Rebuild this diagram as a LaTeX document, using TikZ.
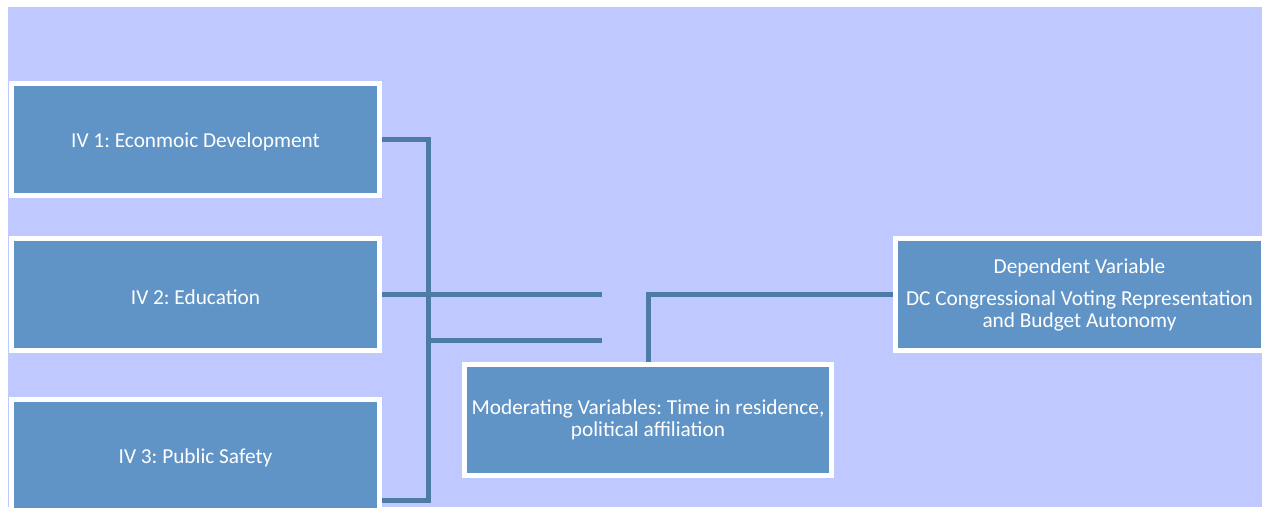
\documentclass[tikz,border=0pt]{standalone}
\usepackage{fontspec}
\setmainfont{Carlito}
\definecolor{grundblau}{RGB}{191,200,255}
\definecolor{kastenblau}{RGB}{96,148,199}
\definecolor{linienblau}{RGB}{78,122,166}
\def\schrift{\fontsize{21.3}{22}\selectfont\frenchspacing}
\begin{document}
\begin{tikzpicture}[x=1pt,y=-1pt,
	varkasten/.style={fill=kastenblau,draw=white,line width=5pt,
		minimum width=368pt,minimum height=112pt,inner sep=2pt,
		text=white,align=center,font=\schrift,
		execute at begin node={\rule{0pt}{20pt}}},
	mehrzeilig/.style={execute at begin node={\rule{0pt}{24pt}}},
	verbindung/.style={draw=linienblau,line width=5pt}]
	\useasboundingbox (0,0) rectangle (1262,507);
	\begin{scope}
	\clip (0,0) rectangle (1262,507);
	\fill[grundblau] (8,7) rectangle (1262,507);
	\node[varkasten] (iv1) at (195.5,139.5) {IV 1: Econmoic Development};
	\node[varkasten] (iv2) at (195.5,294.5) {IV 2: Education};
	\node[varkasten] (iv3) at (195.5,455.5) {IV 3: Public Safety};
	\node[varkasten,mehrzeilig,minimum width=367pt,minimum height=111pt] (mod) at (648,420)
		{Moderating Variables: Time in residence,\\political affiliation};
	\node[varkasten,mehrzeilig] (dv) at (1079.5,294.5)
		{Dependent Variable\\[10pt]DC Congressional Voting Representation\\and Budget Autonomy};
	\coordinate (knoten) at (428,340);
	\coordinate (ende3) at (iv3.east |- 0,500);
	\coordinate (frei2) at (602,294.5);
	\coordinate (frei3) at (602,340);
	\draw[verbindung] (iv1.east) -| (knoten) |- (ende3);
	\draw[verbindung] (iv2.east) -- (frei2);
	\draw[verbindung] (knoten) -- (frei3);
	\draw[verbindung] (mod.north) |- (dv.west);
	\end{scope}
\end{tikzpicture}
\end{document}
